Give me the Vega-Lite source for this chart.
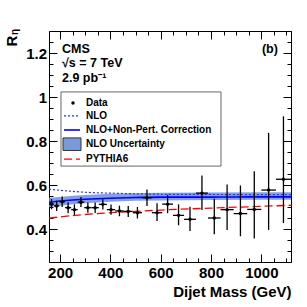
{
  "$schema": "https://vega.github.io/schema/vega-lite/v6.json",
  "width": 242,
  "height": 231,
  "autosize": "none",
  "padding": {"left": 49, "top": 31, "right": 16, "bottom": 45},
  "background": "white",
  "config": {
    "view": {"stroke": "#000", "strokeWidth": 1},
    "font": "Liberation Sans",
    "axis": {"labelFont": "Liberation Sans", "titleFont": "Liberation Sans", "labelFontWeight": "bold", "titleFontWeight": "bold", "labelColor": "#000", "titleColor": "#000", "tickColor": "#000", "grid": false, "domain": false, "labelFontSize": 15, "titleFontSize": 15}
  },
  "datasets": {
    "theory": [
      {"m": 156, "nlo": 0.581, "np": 0.521, "lo": 0.499, "hi": 0.542, "py6": 0.449},
      {"m": 200, "nlo": 0.576, "np": 0.527, "lo": 0.506, "hi": 0.546, "py6": 0.455},
      {"m": 250, "nlo": 0.571, "np": 0.532, "lo": 0.512, "hi": 0.551, "py6": 0.461},
      {"m": 300, "nlo": 0.567, "np": 0.535, "lo": 0.517, "hi": 0.555, "py6": 0.466},
      {"m": 400, "nlo": 0.563, "np": 0.540, "lo": 0.524, "hi": 0.560, "py6": 0.474},
      {"m": 500, "nlo": 0.560, "np": 0.543, "lo": 0.528, "hi": 0.563, "py6": 0.480},
      {"m": 600, "nlo": 0.558, "np": 0.545, "lo": 0.530, "hi": 0.565, "py6": 0.486},
      {"m": 800, "nlo": 0.557, "np": 0.545, "lo": 0.532, "hi": 0.566, "py6": 0.495},
      {"m": 1000, "nlo": 0.556, "np": 0.546, "lo": 0.533, "hi": 0.567, "py6": 0.503},
      {"m": 1118, "nlo": 0.556, "np": 0.546, "lo": 0.533, "hi": 0.567, "py6": 0.508}
    ],
    "pts": [
      {"mlo": 156, "mhi": 176, "mc": 166, "r": 0.513, "lo": 0.490, "hi": 0.536},
      {"mlo": 176, "mhi": 197, "mc": 186.5, "r": 0.505, "lo": 0.482, "hi": 0.528},
      {"mlo": 197, "mhi": 220, "mc": 208.5, "r": 0.524, "lo": 0.500, "hi": 0.548},
      {"mlo": 220, "mhi": 244, "mc": 232, "r": 0.497, "lo": 0.472, "hi": 0.522},
      {"mlo": 244, "mhi": 270, "mc": 257, "r": 0.488, "lo": 0.464, "hi": 0.512},
      {"mlo": 270, "mhi": 296, "mc": 283, "r": 0.522, "lo": 0.500, "hi": 0.545},
      {"mlo": 296, "mhi": 325, "mc": 310.5, "r": 0.497, "lo": 0.474, "hi": 0.520},
      {"mlo": 325, "mhi": 354, "mc": 339.5, "r": 0.497, "lo": 0.473, "hi": 0.521},
      {"mlo": 354, "mhi": 386, "mc": 370, "r": 0.512, "lo": 0.489, "hi": 0.535},
      {"mlo": 386, "mhi": 419, "mc": 402.5, "r": 0.488, "lo": 0.465, "hi": 0.511},
      {"mlo": 419, "mhi": 453, "mc": 436, "r": 0.482, "lo": 0.458, "hi": 0.506},
      {"mlo": 453, "mhi": 489, "mc": 471, "r": 0.480, "lo": 0.455, "hi": 0.505},
      {"mlo": 489, "mhi": 526, "mc": 507.5, "r": 0.474, "lo": 0.448, "hi": 0.500},
      {"mlo": 526, "mhi": 565, "mc": 545.5, "r": 0.542, "lo": 0.505, "hi": 0.580},
      {"mlo": 565, "mhi": 606, "mc": 585.5, "r": 0.474, "lo": 0.436, "hi": 0.517},
      {"mlo": 606, "mhi": 649, "mc": 627.5, "r": 0.513, "lo": 0.472, "hi": 0.555},
      {"mlo": 649, "mhi": 693, "mc": 671, "r": 0.462, "lo": 0.417, "hi": 0.512},
      {"mlo": 693, "mhi": 740, "mc": 716.5, "r": 0.444, "lo": 0.391, "hi": 0.501},
      {"mlo": 740, "mhi": 788, "mc": 764, "r": 0.563, "lo": 0.486, "hi": 0.643},
      {"mlo": 788, "mhi": 838, "mc": 813, "r": 0.450, "lo": 0.376, "hi": 0.538},
      {"mlo": 838, "mhi": 890, "mc": 864, "r": 0.488, "lo": 0.396, "hi": 0.602},
      {"mlo": 890, "mhi": 944, "mc": 917, "r": 0.470, "lo": 0.367, "hi": 0.598},
      {"mlo": 944, "mhi": 1000, "mc": 972, "r": 0.489, "lo": 0.357, "hi": 0.663},
      {"mlo": 1000, "mhi": 1058, "mc": 1029, "r": 0.577, "lo": 0.396, "hi": 0.837},
      {"mlo": 1058, "mhi": 1118, "mc": 1088, "r": 0.626, "lo": 0.427, "hi": 0.912}
    ],
    "info": [
      {"x": 207.7, "y": 1.201, "t": "CMS"},
      {"x": 207.7, "y": 1.136, "t": "√s = 7 TeV"},
      {"x": 207.7, "y": 1.066, "t": "2.9 pb⁻¹"}
    ],
    "panel": [{"x": 1066, "y": 1.202, "t": "(b)"}],
    "ylab": [{"x": 32.8, "y": 1.282, "t": "η"}],
    "legbox": [{"x1": 203.7, "x2": 839.7, "y1": 1.023, "y2": 0.686}],
    "legswatch": [{"x1": 211.7, "x2": 283.2, "y1": 0.814, "y2": 0.757}],
    "legline": [
      {"k": "NLO", "x1": 215.6, "x2": 279.2, "y": 0.914},
      {"k": "NP", "x1": 215.6, "x2": 279.2, "y": 0.850},
      {"k": "PY", "x1": 215.6, "x2": 279.2, "y": 0.718}
    ],
    "legdot": [{"x": 251.4, "y": 0.973}],
    "legtext": [
      {"x": 303, "y": 0.973, "t": "Data"},
      {"x": 303, "y": 0.914, "t": "NLO"},
      {"x": 303, "y": 0.850, "t": "NLO+Non-Pert. Correction"},
      {"x": 303, "y": 0.786, "t": "NLO Uncertainty"},
      {"x": 303, "y": 0.718, "t": "PYTHIA6"}
    ]
  },
  "resolve": {"axis": {"x": "independent", "y": "independent"}},
  "layer": [
    {
      "data": {"name": "theory"},
      "mark": {"type": "area", "color": "#6f8fdc", "opacity": 0.85},
      "encoding": {
        "x": {"field": "m", "type": "quantitative", "scale": {"domain": [156, 1118], "nice": false, "zero": false},
          "axis": {"orient": "bottom", "values": [200, 400, 600, 800, 1000], "format": "d", "tickSize": -8, "labelPadding": 11, "title": "Dijet Mass (GeV)", "titleAlign": "right", "titleAnchor": null, "titleX": 242, "titleY": 34, "titleBaseline": "alphabetic"}},
        "y": {"field": "lo", "type": "quantitative", "scale": {"domain": [0.25, 1.3], "nice": false, "zero": false},
          "axis": {"orient": "left", "values": [0.4, 0.6, 0.8, 1, 1.2], "format": "~g", "tickSize": -8, "labelPadding": 10.5, "title": "R", "titleAngle": 270, "titleAlign": "left", "titleAnchor": null, "titleX": -32.5, "titleY": 15, "titleBaseline": "alphabetic"}},
        "y2": {"field": "hi"}
      }
    },
    {
      "data": {"name": "theory"},
      "mark": {"type": "line", "color": "#2b2bff", "strokeWidth": 1.2, "strokeDash": [2, 2], "interpolate": "monotone"},
      "encoding": {
        "x": {"field": "m", "type": "quantitative", "axis": {"orient": "bottom", "values": [150, 250, 300, 350, 450, 500, 550, 650, 700, 750, 850, 900, 950, 1050, 1100], "tickSize": -4, "labels": false, "title": null}},
        "y": {"field": "nlo", "type": "quantitative", "axis": {"orient": "left", "values": [0.25, 0.3, 0.35, 0.45, 0.5, 0.55, 0.65, 0.7, 0.75, 0.85, 0.9, 0.95, 1.05, 1.1, 1.15, 1.25, 1.3], "tickSize": -4, "labels": false, "title": null}}
      }
    },
    {
      "data": {"name": "theory"},
      "mark": {"type": "line", "color": "#0000ff", "strokeWidth": 1.6, "interpolate": "monotone"},
      "encoding": {
        "x": {"field": "m", "type": "quantitative", "axis": {"orient": "top", "values": [200, 400, 600, 800, 1000], "tickSize": -8, "labels": false, "title": null}},
        "y": {"field": "np", "type": "quantitative", "axis": {"orient": "right", "values": [0.4, 0.6, 0.8, 1, 1.2], "tickSize": -8, "labels": false, "title": null}}
      }
    },
    {
      "data": {"name": "theory"},
      "mark": {"type": "line", "color": "#ff0000", "strokeWidth": 1.3, "strokeDash": [8, 4], "interpolate": "monotone"},
      "encoding": {
        "x": {"field": "m", "type": "quantitative", "axis": {"orient": "top", "values": [150, 250, 300, 350, 450, 500, 550, 650, 700, 750, 850, 900, 950, 1050, 1100], "tickSize": -4, "labels": false, "title": null}},
        "y": {"field": "py6", "type": "quantitative", "axis": {"orient": "right", "values": [0.25, 0.3, 0.35, 0.45, 0.5, 0.55, 0.65, 0.7, 0.75, 0.85, 0.9, 0.95, 1.05, 1.1, 1.15, 1.25, 1.3], "tickSize": -4, "labels": false, "title": null}}
      }
    },
    {
      "data": {"name": "pts"},
      "mark": {"type": "rule", "color": "#000", "strokeWidth": 1.3},
      "encoding": {
        "x": {"field": "mc", "type": "quantitative", "axis": null},
        "y": {"field": "lo", "type": "quantitative", "axis": null},
        "y2": {"field": "hi"}
      }
    },
    {
      "data": {"name": "pts"},
      "mark": {"type": "rule", "color": "#000", "strokeWidth": 1.3},
      "encoding": {
        "x": {"field": "mlo", "type": "quantitative", "axis": null},
        "x2": {"field": "mhi"},
        "y": {"field": "r", "type": "quantitative", "axis": null}
      }
    },
    {
      "data": {"name": "pts"},
      "mark": {"type": "point", "shape": "circle", "filled": true, "color": "#000", "size": 12, "opacity": 1},
      "encoding": {
        "x": {"field": "mc", "type": "quantitative", "axis": null},
        "y": {"field": "r", "type": "quantitative", "axis": null}
      }
    },
    {
      "data": {"name": "legbox"},
      "mark": {"type": "rect", "fill": "white", "stroke": "#666", "strokeWidth": 1},
      "encoding": {
        "x": {"field": "x1", "type": "quantitative", "axis": null},
        "x2": {"field": "x2"},
        "y": {"field": "y1", "type": "quantitative", "axis": null},
        "y2": {"field": "y2"}
      }
    },
    {
      "data": {"name": "legswatch"},
      "mark": {"type": "rect", "fill": "#7b9bd8", "stroke": "#333", "strokeWidth": 1},
      "encoding": {
        "x": {"field": "x1", "type": "quantitative", "axis": null},
        "x2": {"field": "x2"},
        "y": {"field": "y1", "type": "quantitative", "axis": null},
        "y2": {"field": "y2"}
      }
    },
    {
      "data": {"name": "legline"},
      "transform": [{"filter": "datum.k === 'NLO'"}],
      "mark": {"type": "rule", "color": "#2b2bff", "strokeWidth": 1.2, "strokeDash": [2, 2]},
      "encoding": {
        "x": {"field": "x1", "type": "quantitative", "axis": null},
        "x2": {"field": "x2"},
        "y": {"field": "y", "type": "quantitative", "axis": null}
      }
    },
    {
      "data": {"name": "legline"},
      "transform": [{"filter": "datum.k === 'NP'"}],
      "mark": {"type": "rule", "color": "#0000ff", "strokeWidth": 1.6},
      "encoding": {
        "x": {"field": "x1", "type": "quantitative", "axis": null},
        "x2": {"field": "x2"},
        "y": {"field": "y", "type": "quantitative", "axis": null}
      }
    },
    {
      "data": {"name": "legline"},
      "transform": [{"filter": "datum.k === 'PY'"}],
      "mark": {"type": "rule", "color": "#ff0000", "strokeWidth": 1.3, "strokeDash": [8, 4]},
      "encoding": {
        "x": {"field": "x1", "type": "quantitative", "axis": null},
        "x2": {"field": "x2"},
        "y": {"field": "y", "type": "quantitative", "axis": null}
      }
    },
    {
      "data": {"name": "legdot"},
      "mark": {"type": "point", "shape": "circle", "filled": true, "color": "#000", "size": 12, "opacity": 1},
      "encoding": {
        "x": {"field": "x", "type": "quantitative", "axis": null},
        "y": {"field": "y", "type": "quantitative", "axis": null}
      }
    },
    {
      "data": {"name": "legtext"},
      "mark": {"type": "text", "font": "Liberation Sans", "fontWeight": "bold", "fontSize": 10, "align": "left", "baseline": "middle", "color": "#000"},
      "encoding": {
        "x": {"field": "x", "type": "quantitative", "axis": null},
        "y": {"field": "y", "type": "quantitative", "axis": null},
        "text": {"field": "t"}
      }
    },
    {
      "data": {"name": "info"},
      "mark": {"type": "text", "font": "Liberation Sans", "fontWeight": "bold", "fontSize": 12.5, "align": "left", "baseline": "alphabetic", "color": "#000"},
      "encoding": {
        "x": {"field": "x", "type": "quantitative", "axis": null},
        "y": {"field": "y", "type": "quantitative", "axis": null},
        "text": {"field": "t"}
      }
    },
    {
      "data": {"name": "panel"},
      "mark": {"type": "text", "font": "Liberation Sans", "fontWeight": "bold", "fontSize": 12.5, "align": "right", "baseline": "alphabetic", "color": "#000"},
      "encoding": {
        "x": {"field": "x", "type": "quantitative", "axis": null},
        "y": {"field": "y", "type": "quantitative", "axis": null},
        "text": {"field": "t"}
      }
    },
    {
      "data": {"name": "ylab"},
      "mark": {"type": "text", "font": "Liberation Sans", "fontWeight": "bold", "fontSize": 10, "align": "left", "baseline": "alphabetic", "angle": 270, "color": "#000"},
      "encoding": {
        "x": {"field": "x", "type": "quantitative", "axis": null},
        "y": {"field": "y", "type": "quantitative", "axis": null},
        "text": {"field": "t"}
      }
    }
  ]
}
